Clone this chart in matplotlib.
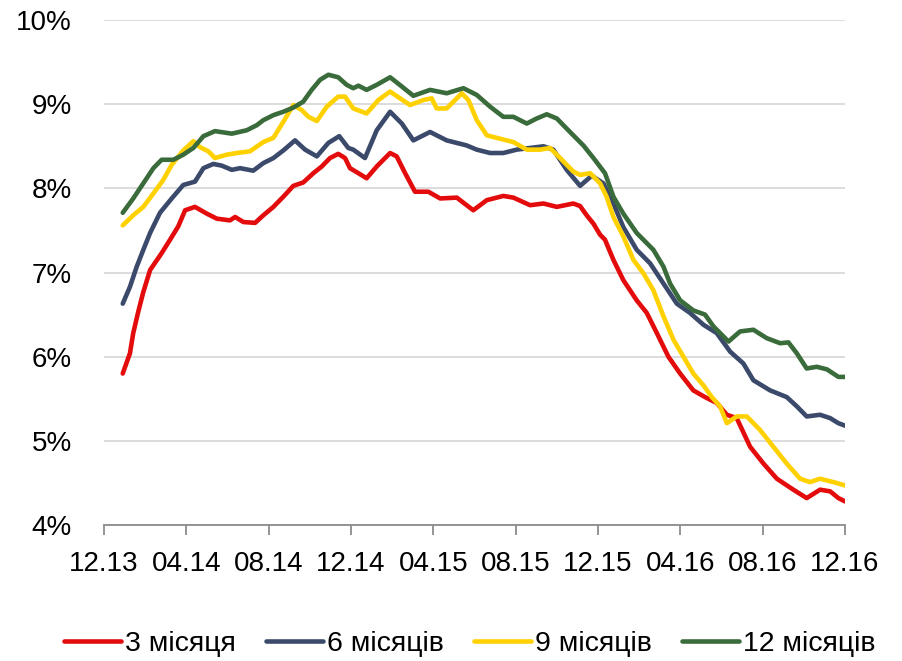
import matplotlib
matplotlib.use("Agg")
import matplotlib.pyplot as plt

plt.rcParams['font.family'] = ['Liberation Sans', 'DejaVu Sans']

# x positions: months since 12.13
tick_labels = ["12.13", "04.14", "08.14", "12.14", "04.15", "08.15", "12.15", "04.16", "08.16", "12.16"]
tick_months = [0, 4, 8, 12, 16, 20, 24, 28, 32, 36]
y_ticks = [4, 5, 6, 7, 8, 9, 10]

series_names = ["3 місяця", "6 місяців", "9 місяців", "12 місяців"]

t_3m = [0.91, 1.26, 1.42, 1.65, 1.90, 2.24, 2.80, 3.21, 3.61, 3.94, 4.42, 4.99, 5.48, 6.12, 6.37, 6.77,
        7.34, 7.74, 8.23, 8.71, 9.20, 9.68, 10.17, 10.58, 10.98, 11.38, 11.71, 11.95, 12.36, 12.76, 13.25,
        13.90, 14.22, 14.63, 15.11, 15.76, 16.33, 17.14, 17.94, 18.60, 19.40, 19.89, 20.70, 21.35, 22.00,
        22.80, 23.13, 23.45, 23.78, 24.10, 24.34, 24.75, 25.23, 25.88, 26.37, 26.86, 27.42, 27.99, 28.63,
        29.20, 29.77, 30.26, 30.74, 31.39, 32.04, 32.69, 33.49, 34.14, 34.79, 35.28, 35.68, 36.01]
v_3m = [5.80, 6.04, 6.28, 6.52, 6.76, 7.03, 7.23, 7.39, 7.55, 7.74, 7.78, 7.70, 7.64, 7.62, 7.66, 7.60,
        7.59, 7.68, 7.78, 7.90, 8.03, 8.07, 8.18, 8.26, 8.36, 8.41, 8.36, 8.24, 8.18, 8.12, 8.26,
        8.42, 8.38, 8.18, 7.96, 7.96, 7.88, 7.89, 7.74, 7.86, 7.91, 7.89, 7.80, 7.82, 7.78,
        7.82, 7.79, 7.68, 7.58, 7.45, 7.39, 7.15, 6.91, 6.67, 6.52, 6.28, 6.00, 5.80, 5.60,
        5.52, 5.45, 5.31, 5.27, 4.93, 4.73, 4.55, 4.42, 4.32, 4.42, 4.40, 4.32, 4.28]

t_6m = [0.91, 1.26, 1.59, 1.91, 2.24, 2.72, 3.29, 3.85, 4.42, 4.83, 5.31, 5.72, 6.21, 6.61, 7.25, 7.74,
        8.23, 8.71, 9.28, 9.77, 10.34, 10.90, 11.43, 11.87, 12.11, 12.68, 13.25, 13.90, 14.47, 15.03,
        15.84, 16.65, 17.62, 18.11, 18.76, 19.40, 20.05, 20.70, 21.35, 21.83, 22.48, 23.13, 23.70,
        24.26, 24.75, 25.23, 25.88, 26.53, 27.18, 27.83, 28.47, 29.12, 29.77, 30.42, 31.06, 31.55,
        32.36, 33.17, 33.66, 34.14, 34.79, 35.28, 35.68, 36.01]
v_6m = [6.63, 6.83, 7.07, 7.27, 7.47, 7.71, 7.88, 8.04, 8.08, 8.24, 8.29, 8.27, 8.22, 8.24, 8.21, 8.30,
        8.36, 8.45, 8.57, 8.46, 8.38, 8.54, 8.62, 8.48, 8.46, 8.36, 8.69, 8.91, 8.77, 8.57,
        8.67, 8.57, 8.51, 8.46, 8.42, 8.42, 8.46, 8.48, 8.50, 8.46, 8.22, 8.03, 8.15,
        8.06, 7.82, 7.54, 7.27, 7.11, 6.87, 6.63, 6.52, 6.38, 6.28, 6.06, 5.92, 5.72,
        5.60, 5.52, 5.41, 5.29, 5.31, 5.27, 5.21, 5.18]

t_9m = [0.91, 1.42, 1.91, 2.40, 2.88, 3.29, 3.85, 4.34, 4.66, 5.07, 5.39, 5.96, 6.45, 7.09, 7.74, 8.23,
        8.71, 9.20, 9.61, 9.93, 10.34, 10.82, 11.38, 11.71, 12.11, 12.76, 13.33, 13.90, 14.38, 14.87,
        15.52, 15.92, 16.16, 16.65, 17.06, 17.38, 17.70, 18.11, 18.60, 19.24, 19.89, 20.54, 21.19,
        21.67, 22.16, 22.80, 23.13, 23.62, 24.10, 24.42, 24.75, 25.23, 25.72, 26.21, 26.69, 27.18,
        27.67, 28.15, 28.63, 29.12, 29.53, 29.93, 30.26, 30.74, 31.23, 31.87, 32.52, 33.17, 33.82,
        34.30, 34.79, 35.44, 36.01]
v_9m = [7.56, 7.68, 7.78, 7.94, 8.10, 8.28, 8.45, 8.56, 8.49, 8.44, 8.36, 8.40, 8.42, 8.44, 8.55, 8.60,
        8.79, 8.99, 8.93, 8.85, 8.80, 8.97, 9.09, 9.09, 8.95, 8.89, 9.05, 9.15, 9.07, 8.99,
        9.05, 9.07, 8.95, 8.95, 9.05, 9.13, 9.05, 8.81, 8.63, 8.59, 8.55, 8.46, 8.46,
        8.48, 8.36, 8.20, 8.16, 8.18, 8.06, 7.90, 7.66, 7.43, 7.15, 6.99, 6.79, 6.48,
        6.20, 6.00, 5.80, 5.66, 5.52, 5.41, 5.21, 5.29, 5.29, 5.13, 4.93, 4.73, 4.55,
        4.51, 4.55, 4.51, 4.47]

t_12m = [0.91, 1.42, 1.91, 2.40, 2.80, 3.37, 3.85, 4.34, 4.83, 5.39, 6.21, 6.93, 7.42, 7.74, 8.23, 8.71,
         9.20, 9.68, 10.09, 10.50, 10.90, 11.38, 11.79, 12.11, 12.36, 12.76, 13.25, 13.90, 14.47, 15.03,
         15.84, 16.65, 17.46, 18.11, 18.76, 19.40, 19.89, 20.54, 21.02, 21.51, 22.00, 22.64, 23.29,
         23.78, 24.34, 24.75, 25.23, 25.88, 26.69, 27.18, 27.50, 27.99, 28.63, 29.20, 29.61, 30.34,
         30.90, 31.55, 32.20, 32.85, 33.25, 33.66, 34.14, 34.63, 35.12, 35.68, 36.01]
v_12m = [7.71, 7.88, 8.06, 8.24, 8.34, 8.34, 8.40, 8.48, 8.62, 8.68, 8.65, 8.69, 8.75, 8.81, 8.87, 8.91,
         8.96, 9.03, 9.17, 9.29, 9.35, 9.32, 9.23, 9.19, 9.22, 9.17, 9.23, 9.32, 9.21, 9.10,
         9.17, 9.13, 9.19, 9.11, 8.97, 8.85, 8.85, 8.77, 8.83, 8.88, 8.83, 8.67, 8.51,
         8.36, 8.18, 7.90, 7.70, 7.47, 7.27, 7.07, 6.87, 6.67, 6.55, 6.50, 6.36, 6.18,
         6.30, 6.32, 6.22, 6.16, 6.17, 6.04, 5.86, 5.88, 5.85, 5.76, 5.76]

colors = ["#E30B0B", "#3B4A6B", "#FFD100", "#3A6B3B"]

fig = plt.figure(figsize=(9.02, 6.61), dpi=100)
ax = fig.add_axes([0.1153, 0.2057, 0.8215, 0.764])

for t, v, c, name in zip([t_3m, t_6m, t_9m, t_12m], [v_3m, v_6m, v_9m, v_12m], colors, series_names):
    ax.plot(t, v, color=c, lw=3.3, label=name, solid_capstyle='round', solid_joinstyle='round')

ax.set_xlim(0, 36)
ax.set_ylim(4, 10)
ax.set_yticks(y_ticks)
ax.set_yticklabels([f"{y}%" for y in y_ticks])
ax.set_xticks(tick_months)
ax.set_xticklabels(tick_labels)
ax.grid(axis='y', color='#D9D9D9', lw=1.3)
ax.set_axisbelow(True)
for s in ['left', 'right', 'top']:
    ax.spines[s].set_visible(False)
ax.spines['bottom'].set_color('#8C8C8C')
ax.spines['bottom'].set_linewidth(1.3)
ax.tick_params(axis='y', length=0, pad=23, labelsize=20)
ax.tick_params(axis='x', length=7, width=1.3, color='#8C8C8C', pad=12, labelsize=20)

fig.legend(loc='center', bbox_to_anchor=(0.521, 0.026), ncol=4, frameon=False, fontsize=20.5,
           handlelength=2.0, handletextpad=0.15, columnspacing=1.05, borderaxespad=0)

fig.savefig("out.png", dpi=100)
